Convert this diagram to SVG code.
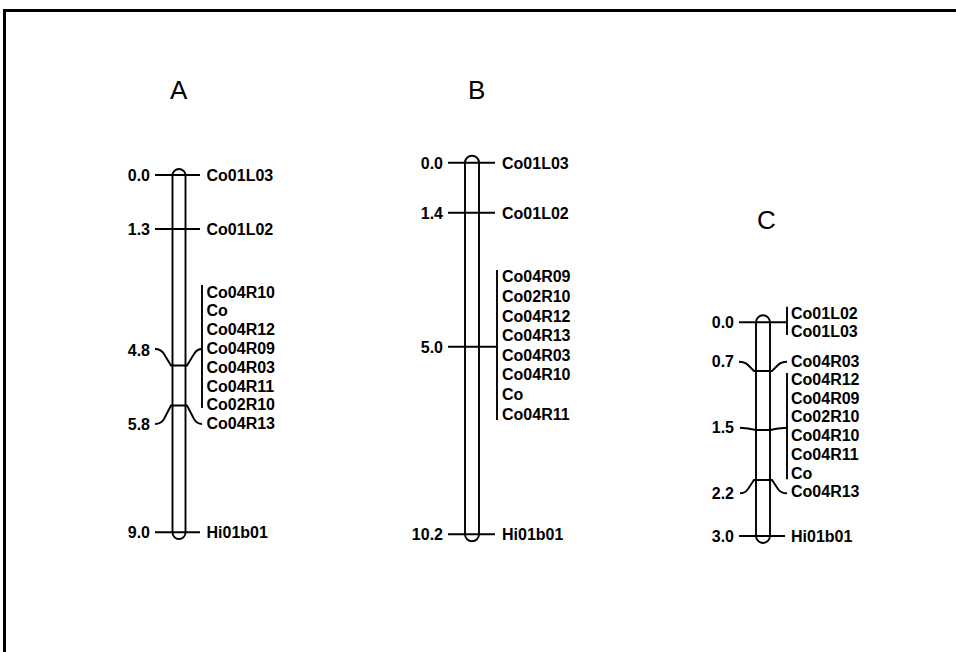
<svg xmlns="http://www.w3.org/2000/svg" width="956" height="652" viewBox="0 0 956 652">
<style>
.chr{fill:none;stroke:#000;stroke-width:1.9}
.ln{fill:none;stroke:#000;stroke-width:1.9}
.t{font-family:"Liberation Sans",Arial,sans-serif;font-weight:bold;font-size:16px;fill:#000}
.r{text-anchor:end}
.title{font-family:"Liberation Sans",Arial,sans-serif;font-size:26px;fill:#000}
</style>
<rect x="0" y="0" width="956" height="652" fill="#fff"/>
<rect x="4.5" y="10.5" width="1000" height="700" fill="none" stroke="#000" stroke-width="3"/>
<g id="connectors">
<line class="ln" x1="155" y1="175" x2="200" y2="175"/>
<line class="ln" x1="155" y1="229" x2="200" y2="229"/>
<path class="ln" d="M155,349 Q161,349 164,354 L171,365.5 L187,365.5 L194,354 Q197,349 202,349"/>
<line class="ln" x1="202" y1="285" x2="202" y2="408"/>
<path class="ln" d="M155,424 Q161,424 164,419 L171,405.5 L187,405.5 L194,419 Q197,424 202,424"/>
<line class="ln" x1="155" y1="532.3" x2="200" y2="532.3"/>
<line class="ln" x1="448" y1="162.7" x2="495" y2="162.7"/>
<line class="ln" x1="448" y1="212.7" x2="495" y2="212.7"/>
<line class="ln" x1="448" y1="346.7" x2="497" y2="346.7"/>
<line class="ln" x1="497" y1="270" x2="497" y2="420"/>
<line class="ln" x1="448" y1="534.3" x2="495" y2="534.3"/>
<line class="ln" x1="739" y1="322.3" x2="787" y2="322.3"/>
<line class="ln" x1="787" y1="306.7" x2="787" y2="335"/>
<path class="ln" d="M739,361.7 Q745,361.7 748,365 L754,371 L772,371 L778,365 Q781,361.7 787,361.7"/>
<line class="ln" x1="787" y1="373" x2="787" y2="479.3"/>
<path class="ln" d="M740,427.7 Q748,428 756,430 L770,430 Q778,428 787,427.7"/>
<path class="ln" d="M740,493.3 Q745,493.3 748,489 L754,480 L772,480 L778,489 Q781,493.3 787,493.3"/>
<line class="ln" x1="739" y1="536" x2="785" y2="536"/>
</g>
<g id="chrA">
<text class="title" x="170" y="99">A</text>
<rect class="chr" x="172.5" y="169" width="13" height="370" rx="6.5" ry="6.5"/>
<text class="t r" x="150" y="181">0.0</text>
<text class="t r" x="150" y="235">1.3</text>
<text class="t r" x="150" y="355.5">4.8</text>
<text class="t r" x="150" y="430">5.8</text>
<text class="t r" x="150" y="538">9.0</text>
<text class="t" x="206.5" y="181">Co01L03</text>
<text class="t" x="206.5" y="235">Co01L02</text>
<text class="t" x="206.5" y="297.5">Co04R10</text>
<text class="t" x="206.5" y="316.3">Co</text>
<text class="t" x="206.5" y="335.1">Co04R12</text>
<text class="t" x="206.5" y="353.9">Co04R09</text>
<text class="t" x="206.5" y="372.7">Co04R03</text>
<text class="t" x="206.5" y="391.5">Co04R11</text>
<text class="t" x="206.5" y="410.3">Co02R10</text>
<text class="t" x="206.5" y="429.1">Co04R13</text>
<text class="t" x="206.5" y="538">Hi01b01</text>
</g>
<g id="chrB">
<text class="title" x="468" y="99">B</text>
<rect class="chr" x="465" y="155.7" width="14" height="385.6" rx="7" ry="7"/>
<text class="t r" x="443" y="168.5">0.0</text>
<text class="t r" x="443" y="218.5">1.4</text>
<text class="t r" x="443" y="352.5">5.0</text>
<text class="t r" x="443" y="540">10.2</text>
<text class="t" x="502" y="168.5">Co01L03</text>
<text class="t" x="502" y="218.5">Co01L02</text>
<text class="t" x="502" y="282.4">Co04R09</text>
<text class="t" x="502" y="302">Co02R10</text>
<text class="t" x="502" y="321.6">Co04R12</text>
<text class="t" x="502" y="341.2">Co04R13</text>
<text class="t" x="502" y="360.8">Co04R03</text>
<text class="t" x="502" y="380.4">Co04R10</text>
<text class="t" x="502" y="400">Co</text>
<text class="t" x="502" y="419.6">Co04R11</text>
<text class="t" x="502" y="540">Hi01b01</text>
</g>
<g id="chrC">
<text class="title" x="757" y="229">C</text>
<rect class="chr" x="756" y="315.3" width="14" height="227.7" rx="7" ry="7"/>
<text class="t r" x="734" y="328">0.0</text>
<text class="t r" x="734" y="367.4">0.7</text>
<text class="t r" x="734" y="433.4">1.5</text>
<text class="t r" x="734" y="499">2.2</text>
<text class="t r" x="734" y="541.7">3.0</text>
<text class="t" x="791" y="319">Co01L02</text>
<text class="t" x="791" y="336.7">Co01L03</text>
<text class="t" x="791" y="367.4">Co04R03</text>
<text class="t" x="791" y="385">Co04R12</text>
<text class="t" x="791" y="403.7">Co04R09</text>
<text class="t" x="791" y="422.4">Co02R10</text>
<text class="t" x="791" y="441.1">Co04R10</text>
<text class="t" x="791" y="459.8">Co04R11</text>
<text class="t" x="791" y="478.5">Co</text>
<text class="t" x="791" y="497.2">Co04R13</text>
<text class="t" x="791" y="541.7">Hi01b01</text>
</g>
</svg>
